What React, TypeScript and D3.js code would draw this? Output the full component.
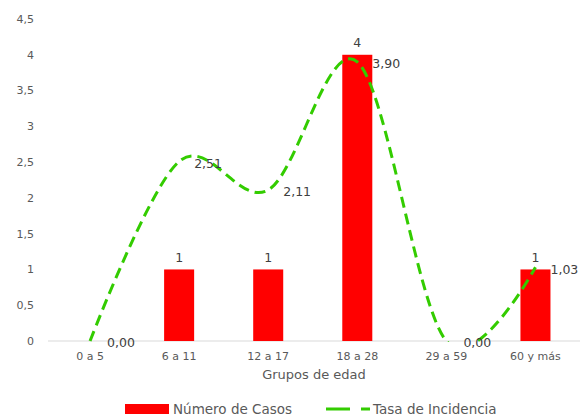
import React from "react";
import * as d3 from "d3";

const categories = ["0 a 5", "6 a 11", "12 a 17", "18 a 28", "29 a 59", "60 y más"];
const casos = [0, 1, 1, 4, 0, 1];
const tasa = [0.0, 2.51, 2.11, 3.9, 0.0, 1.03];
const yTicks = [0, 0.5, 1, 1.5, 2, 2.5, 3, 3.5, 4, 4.5];

const W = 580;
const H = 418;
const FONT = "DejaVu Sans, sans-serif";
const TXT = "#595959";
const GREEN = "#33cc00";

const fmt = (v: number, d: number) => v.toFixed(d).replace(".", ",");

export default function App() {
  const x = d3.scaleBand<string>().domain(categories).range([45.5, 580]).padding(0);
  const y = d3.scaleLinear().domain([0, 4.5]).range([341, 19]);
  const cx = (c: string) => (x(c) as number) + x.bandwidth() / 2;
  const barW = x.bandwidth() * 0.337;

  const pts: [number, number][] = categories.map((c, i) => [cx(c), y(tasa[i])]);
  const line = d3.line().curve(d3.curveCardinal.tension(0))(pts) || "";

  return (
    <svg
      width={W}
      height={H}
      style={{ position: "absolute", left: 0, top: 0, background: "#fff" }}
      fontFamily={FONT}
    >
      <defs>
        <clipPath id="plotClip">
          <rect x={0} y={0} width={W} height={y(0) + 1} />
        </clipPath>
      </defs>
      {yTicks.map((t) => (
        <text key={t} x={34} y={y(t)} dy="0.35em" textAnchor="end" fontSize={11} fill={TXT}>
          {String(t).replace(".", ",")}
        </text>
      ))}
      <line x1={48} x2={580} y1={y(0)} y2={y(0)} stroke="#d9d9d9" strokeWidth={1} />
      {categories.map((c, i) =>
        casos[i] > 0 ? (
          <g key={c}>
            <rect x={cx(c) - barW / 2} y={y(casos[i])} width={barW} height={y(0) - y(casos[i])} fill="#ff0000" />
            <text x={cx(c)} y={y(casos[i]) - 12} dy="0.35em" textAnchor="middle" fontSize={12.5} fill="#404040">
              {casos[i]}
            </text>
          </g>
        ) : null
      )}
      <path d={line} fill="none" stroke={GREEN} strokeWidth={3} strokeDasharray="11 6" clipPath="url(#plotClip)" />
      {categories.map((c, i) => (
        <text
          key={"t" + c}
          x={cx(c) + (tasa[i] === 0 ? 17 : 15)}
          y={y(tasa[i]) + 2}
          dy="0.35em"
          fontSize={12.5}
          fill="#404040"
        >
          {fmt(tasa[i], 2)}
        </text>
      ))}
      {categories.map((c) => (
        <text key={"x" + c} x={cx(c)} y={356} dy="0.35em" textAnchor="middle" fontSize={11} fill={TXT}>
          {c}
        </text>
      ))}
      <text x={314} y={374} dy="0.35em" textAnchor="middle" fontSize={13} fill={TXT}>
        Grupos de edad
      </text>
      <rect x={125} y={404} width={44} height={10} fill="#ff0000" />
      <text x={173} y={409} dy="0.35em" fontSize={13.5} fill={TXT}>
        Número de Casos
      </text>
      <line x1={326} x2={370} y1={409} y2={409} stroke={GREEN} strokeWidth={3} strokeDasharray="24 11" />
      <text x={373} y={409} dy="0.35em" fontSize={13.5} fill={TXT}>
        Tasa de Incidencia
      </text>
    </svg>
  );
}
